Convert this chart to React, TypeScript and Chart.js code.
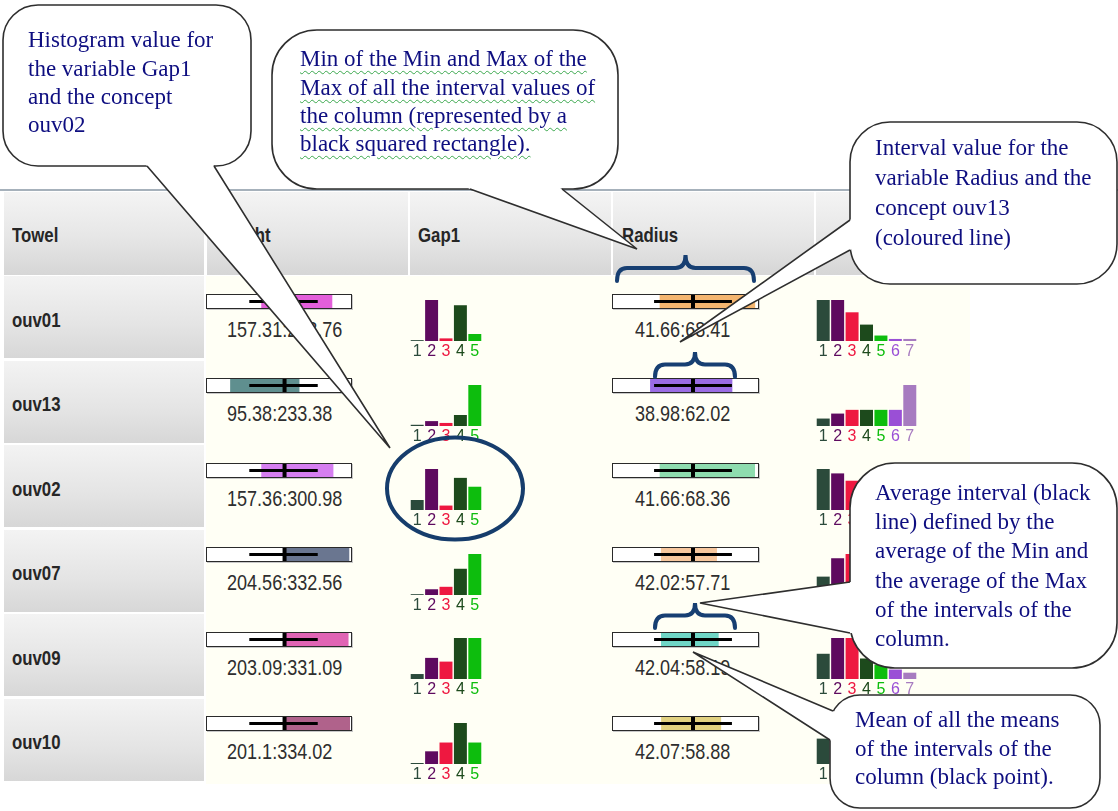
import React, { useEffect, useRef } from 'react';
import { Chart, registerables } from 'chart.js';

Chart.register(...registerables);

// ---------------- data ----------------
const concepts = ['ouv01', 'ouv13', 'ouv02', 'ouv07', 'ouv09', 'ouv10'];
const headers = ['Towel', 'Weight', 'Gap1', 'Radius', ''];

const weightMin = [157.31, 95.38, 157.36, 204.56, 203.09, 201.1];
const weightMax = [298.76, 233.38, 300.98, 332.56, 331.09, 334.02];
const weightColors = ['#E35FDA', '#5F8F8F', '#D57EF0', '#6A7690', '#E064B4', '#B0628B'];
const weightAxis = [49.3, 336.0];
const weightAvgInterval = [133.5, 269.8];
const weightMeanOfMeans = 203.7;

const radiusMin = [41.66, 38.98, 41.66, 42.02, 42.04, 42.07];
const radiusMax = [68.41, 62.02, 68.36, 57.71, 58.19, 58.88];
const radiusColors = ['#F4B56F', '#9A6CE4', '#8EDCAF', '#F7C79D', '#6FD6C6', '#E1D17F'];
const radiusAxis = [28.6, 69.2];
const radiusAvgInterval = [40.1, 61.9];
const radiusMeanOfMeans = 51.0;

const gap1Bins = ['1', '2', '3', '4', '5'];
const gap1Freq = [
  [0.01, 0.47, 0.03, 0.41, 0.08],
  [0.02, 0.08, 0.05, 0.18, 0.67],
  [0.09, 0.37, 0.04, 0.29, 0.21],
  [0.01, 0.07, 0.10, 0.32, 0.50],
  [0.04, 0.17, 0.14, 0.33, 0.33],
  [0.01, 0.13, 0.22, 0.42, 0.22],
];

const gap2Bins = ['1', '2', '3', '4', '5', '6', '7'];
const gap2Freq = [
  [0.30, 0.30, 0.21, 0.12, 0.04, 0.015, 0.015],
  [0.06, 0.10, 0.13, 0.13, 0.13, 0.13, 0.33],
  [0.28, 0.25, 0.20, 0.12, 0.08, 0.04, 0.03],
  [0.13, 0.26, 0.29, 0.16, 0.09, 0.04, 0.03],
  [0.16, 0.26, 0.26, 0.13, 0.09, 0.06, 0.04],
  [0.26, 0.42, 0.12, 0.08, 0.06, 0.04, 0.02],
];

const binColors = ['#2B4A3B', '#5E0A5F', '#EE1840', '#1D4A1C', '#0DBD0D', '#9A4FD6', '#A77BC0'];

// ---------------- layout ----------------
const PITCH = 84.5;
const BOX_TOP0 = 293.7;
const HIST_BASE0 = 342;
const SANS = '"Liberation Sans", Arial, sans-serif';
const SERIF = '"Liberation Serif", "Times New Roman", serif';
const NAVY = '#0E0E80';
const BRACE = '#173F72';

function CText(props: { x: number; baseline: number; size: number; scale: number; bold?: boolean; color: string; children: any }) {
  const { x, baseline, size, scale, bold, color, children } = props;
  return (
    <div
      style={{
        position: 'absolute',
        left: x,
        top: baseline - 0.8465 * size,
        fontSize: size,
        lineHeight: size + 'px',
        fontWeight: bold ? 700 : 400,
        color,
        whiteSpace: 'nowrap',
        transform: `scaleX(${scale})`,
        transformOrigin: '0 0',
        fontFamily: SANS,
      }}
    >
      {children}
    </div>
  );
}

function IntervalBox(props: {
  left: number; top: number; width: number; axis: number[]; lo: number; hi: number;
  color: string; avg: number[]; mean: number;
}) {
  const { left, top, width, axis, lo, hi, color, avg, mean } = props;
  const ref = useRef<HTMLCanvasElement>(null);
  useEffect(() => {
    const chart = new Chart(ref.current as HTMLCanvasElement, {
      type: 'scatter',
      data: {
        datasets: [
          {
            // mean of all the means (black point)
            data: [{ x: mean, y: 0 }],
            pointStyle: 'line',
            rotation: 90,
            pointRadius: 7,
            pointBorderWidth: 4,
            borderColor: '#000',
            backgroundColor: '#000',
            showLine: false,
            order: 1,
            clip: false,
          } as any,
          {
            // average interval (black line)
            data: [{ x: avg[0], y: 0 }, { x: avg[1], y: 0 }],
            showLine: true,
            borderColor: '#000',
            borderWidth: 3,
            pointRadius: 0,
            order: 2,
            clip: false,
          } as any,
          {
            // interval of this concept (coloured line)
            data: [{ x: lo, y: 0 }, { x: hi, y: 0 }],
            showLine: true,
            borderColor: color,
            borderWidth: 13,
            pointRadius: 0,
            order: 3,
            clip: false,
          } as any,
        ],
      },
      options: {
        responsive: false,
        animation: false,
        events: [],
        layout: { padding: 0, autoPadding: false },
        plugins: { legend: { display: false }, tooltip: { enabled: false } },
        scales: {
          x: { type: 'linear', min: axis[0], max: axis[1], display: false },
          y: { type: 'linear', min: -1, max: 1, display: false },
        },
      } as any,
    });
    return () => chart.destroy();
  }, []);
  return (
    <div
      style={{
        position: 'absolute',
        left,
        top,
        width,
        height: 15,
        boxSizing: 'border-box',
        border: '1px solid #2a2a2a',
        background: '#fff',
        boxShadow: '1px 1px 0 #c8c8c8',
        overflow: 'hidden',
      }}
    >
      <canvas ref={ref} width={width - 2} height={13} style={{ display: 'block' }} />
    </div>
  );
}

function Histogram(props: { left: number; baseline: number; width: number; bins: string[]; values: number[] }) {
  const { left, baseline, width, bins, values } = props;
  const ref = useRef<HTMLCanvasElement>(null);
  useEffect(() => {
    const chart = new Chart(ref.current as HTMLCanvasElement, {
      type: 'bar',
      data: {
        labels: bins,
        datasets: [
          {
            data: values,
            backgroundColor: binColors.slice(0, bins.length),
            barPercentage: 0.9,
            categoryPercentage: 1,
          },
        ],
      },
      options: {
        responsive: false,
        animation: false,
        events: [],
        layout: { padding: 0 },
        plugins: { legend: { display: false }, tooltip: { enabled: false } },
        scales: {
          x: {
            grid: { display: false, drawTicks: false },
            border: { display: false },
            ticks: {
              color: (c: any) => binColors[c.index],
              font: { family: SANS, size: 16, lineHeight: '20px' },
              padding: 1,
              autoSkip: false,
              maxRotation: 0,
            },
          },
          y: { display: false, min: 0, max: Math.max(...values) },
        },
      } as any,
    });
    return () => chart.destroy();
  }, []);
  return (
    <canvas
      ref={ref}
      width={width}
      height={63}
      style={{ position: 'absolute', left, top: baseline - 42, display: 'block' }}
    />
  );
}

type Pt = [number, number];

function Bubble(props: { x: number; y: number; w: number; h: number; r: number; b1: Pt; b2: Pt; tip: Pt }) {
  const { x, y, w, h, r, b1, b2, tip } = props;
  const mx = (b1[0] + b2[0]) / 2;
  const my = (b1[1] + b2[1]) / 2;
  let dx = mx - tip[0];
  let dy = my - tip[1];
  const len = Math.hypot(dx, dy);
  dx /= len;
  dy /= len;
  const in1: Pt = [b1[0] + dx * 6, b1[1] + dy * 6];
  const in2: Pt = [b2[0] + dx * 6, b2[1] + dy * 6];
  const p = (a: Pt) => `${a[0]},${a[1]}`;
  return (
    <g>
      <rect x={x} y={y} width={w} height={h} rx={r} ry={r} fill="#fff" stroke="#2e2e2e" strokeWidth={1.6} />
      <polygon points={[b1, tip, b2, in2, in1].map(p).join(' ')} fill="#fff" />
      <polyline points={[b1, tip, b2].map(p).join(' ')} fill="none" stroke="#2e2e2e" strokeWidth={1.6} />
    </g>
  );
}

function bracePath(x0: number, x1: number, yt: number, yb: number) {
  const ym = yt + (yb - yt) * 0.5;
  const xc = (x0 + x1) / 2;
  const r = 10;
  return `M${x0},${yb} Q${x0},${ym} ${x0 + r},${ym} L${xc - r},${ym} Q${xc},${ym} ${xc},${yt} Q${xc},${ym} ${xc + r},${ym} L${x1 - r},${ym} Q${x1},${ym} ${x1},${yb}`;
}

function CalloutText(props: { left: number; firstCenter: number; lh: number; lines: string[]; wavy?: boolean }) {
  const { left, firstCenter, lh, lines, wavy } = props;
  const size = 23;
  const top = firstCenter - ((lh - 1.107 * size) / 2 + 0.891 * size - 0.23 * size);
  return (
    <div
      style={{
        position: 'absolute',
        left,
        top,
        fontFamily: SERIF,
        fontSize: size,
        lineHeight: lh + 'px',
        color: NAVY,
        whiteSpace: 'nowrap',
      }}
    >
      {lines.map((l, i) => (
        <div key={i}>
          <span
            style={
              wavy
                ? {
                    textDecorationLine: 'underline',
                    textDecorationStyle: 'wavy',
                    textDecorationColor: '#3BA84E',
                    textDecorationThickness: '1px',
                    textUnderlineOffset: '4px',
                  }
                : {}
            }
          >
            {l}
          </span>
        </div>
      ))}
    </div>
  );
}

export default function App() {
  const colLefts = [4, 207, 410, 613, 816];
  const colWidths = [200, 201, 201, 201, 201];
  const headerTextX = [12, 215, 418, 622, 824];
  return (
    <div
      style={{
        position: 'fixed',
        left: 0,
        top: 0,
        width: 1118,
        height: 811,
        background: '#fff',
        overflow: 'hidden',
        fontFamily: SANS,
      }}
    >
      {/* header top line */}
      <div style={{ position: 'absolute', left: 0, top: 189, width: 1118, height: 2, background: '#A6B1BB' }} />
      {headers.map((h, i) => (
        <div
          key={'hc' + i}
          style={{
            position: 'absolute',
            left: colLefts[i],
            top: 192,
            width: colWidths[i],
            height: 83,
            background: 'linear-gradient(#f4f4f4, #e6e6e6 55%, #d6d6d6)',
          }}
        />
      ))}
      {headers.map((h, i) => (
        <CText key={'ht' + i} x={headerTextX[i]} baseline={242} size={21} scale={0.8} bold color="#262626">
          {h}
        </CText>
      ))}

      {/* data area */}
      <div style={{ position: 'absolute', left: 206, top: 276, width: 764, height: 508, background: '#FFFFF5' }} />

      {concepts.map((c, i) => (
        <React.Fragment key={c}>
          <div
            style={{
              position: 'absolute',
              left: 4,
              top: 276 + PITCH * i,
              width: 200,
              height: 82,
              background: 'linear-gradient(#f3f3f3, #e4e4e4 60%, #d7d7d7)',
            }}
          />
          <CText x={12} baseline={326.7 + PITCH * i} size={21} scale={0.8} bold color="#262626">
            {c}
          </CText>

          <IntervalBox
            left={206}
            top={BOX_TOP0 + PITCH * i}
            width={146}
            axis={weightAxis}
            lo={weightMin[i]}
            hi={weightMax[i]}
            color={weightColors[i]}
            avg={weightAvgInterval}
            mean={weightMeanOfMeans}
          />
          <CText x={227} baseline={BOX_TOP0 + PITCH * i + 43.5} size={22} scale={0.82} color="#2e2e2e">
            {`${weightMin[i]}:${weightMax[i]}`}
          </CText>

          <Histogram left={410} baseline={HIST_BASE0 + PITCH * i} width={72} bins={gap1Bins} values={gap1Freq[i]} />

          <IntervalBox
            left={612}
            top={BOX_TOP0 + PITCH * i}
            width={147}
            axis={radiusAxis}
            lo={radiusMin[i]}
            hi={radiusMax[i]}
            color={radiusColors[i]}
            avg={radiusAvgInterval}
            mean={radiusMeanOfMeans}
          />
          <CText x={635} baseline={BOX_TOP0 + PITCH * i + 43.5} size={22} scale={0.82} color="#2e2e2e">
            {`${radiusMin[i]}:${radiusMax[i]}`}
          </CText>

          <Histogram left={816} baseline={HIST_BASE0 + PITCH * i} width={101} bins={gap2Bins} values={gap2Freq[i]} />
        </React.Fragment>
      ))}

      {/* annotations */}
      <svg width={1118} height={811} style={{ position: 'absolute', left: 0, top: 0 }}>
        <ellipse cx={455} cy={488.5} rx={68} ry={51} fill="none" stroke="#163D6C" strokeWidth={4} />
        <path d={bracePath(617, 754, 255, 281)} fill="none" stroke={BRACE} strokeWidth={4} strokeLinecap="round" />
        <path d={bracePath(655, 735, 352, 377)} fill="none" stroke={BRACE} strokeWidth={4} strokeLinecap="round" />
        <path d={bracePath(655, 735, 603, 628)} fill="none" stroke={BRACE} strokeWidth={4} strokeLinecap="round" />

        <Bubble x={3} y={5} w={248} h={161} r={35} b1={[147, 166]} b2={[214, 166]} tip={[390, 448]} />
        <Bubble x={272} y={30} w={346} h={159} r={45} b1={[470, 189]} b2={[562, 189]} tip={[637, 249]} />
        <Bubble x={850} y={122} w={267} h={162} r={40} b1={[850, 220]} b2={[850, 250]} tip={[680, 342]} />
        <Bubble x={850} y={463} w={267} h={205} r={45} b1={[850, 582]} b2={[850, 633]} tip={[700, 603]} />
        <Bubble x={830} y={695} w={270} h={113} r={30} b1={[833, 711]} b2={[830, 740]} tip={[693, 652]} />
      </svg>

      <CalloutText
        left={28}
        firstCenter={43}
        lh={28.3}
        lines={['Histogram value for', 'the variable Gap1', 'and the concept', 'ouv02']}
      />
      <CalloutText
        left={300}
        firstCenter={62}
        lh={28.3}
        wavy
        lines={['Min of the Min and Max of the', 'Max of all the interval values of', 'the column (represented by a', 'black squared rectangle).']}
      />
      <CalloutText
        left={875}
        firstCenter={150}
        lh={30}
        lines={['Interval value for the', 'variable Radius and the', 'concept ouv13', '(coloured line)']}
      />
      <CalloutText
        left={875}
        firstCenter={495}
        lh={29.3}
        lines={[
          'Average interval (black',
          'line) defined by the',
          'average of the Min and',
          'the average of the Max',
          'of the intervals of the',
          'column.',
        ]}
      />
      <CalloutText
        left={855}
        firstCenter={723}
        lh={28.5}
        lines={['Mean of all the means', 'of the intervals of the', 'column (black point).']}
      />
    </div>
  );
}
